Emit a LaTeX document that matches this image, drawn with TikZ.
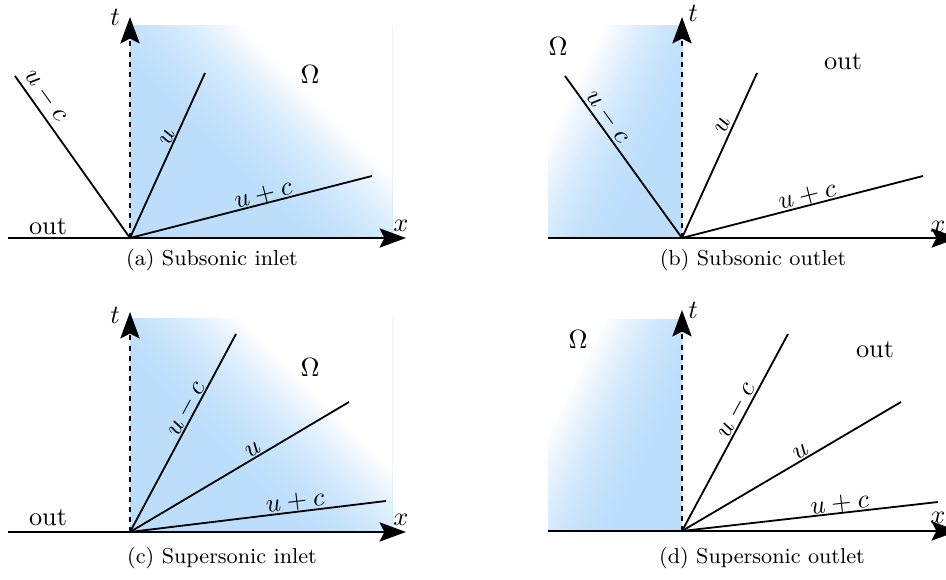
\documentclass[tikz,border=0pt]{standalone}
\usetikzlibrary{arrows.meta}
\definecolor{skyb}{RGB}{188,222,251}
% inlet: u = dx + dy, fade f = ((u-158)/168)^2
\newcommand\inletfade[2]{%
  \foreach \k in {1,...,42}{%
    \pgfmathsetmacro\cc{158+(\k-1)*4}%
    \pgfmathsetmacro\pp{100*(\k/42)^2}%
    \fill[white!\pp!skyb] ({#1+\cc-500},{#2-500}) -- ({#1+\cc+500},{#2+500}) -- ({#1+\cc+1500},{#2-500}) -- ({#1+\cc+500},{#2-1500}) -- cycle;
  }}
% outlet: u = (ox-x) + 0.5 (oy-y), fade f = ((u-60)/125)^2
\newcommand\outletfade[2]{%
  \foreach \k in {1,...,50}{%
    \pgfmathsetmacro\cc{60+(\k-1)*2.5}%
    \pgfmathsetmacro\pp{100*(\k/50)^2}%
    \fill[white!\pp!skyb] ({#1-\cc+250},{#2-500}) -- ({#1-\cc-250},{#2+500}) -- ({#1-\cc-1250},{#2}) -- ({#1-\cc-750},{#2-1000}) -- cycle;
  }}
\tikzset{
  axisline/.style={line width=0.9pt, -{Stealth[length=11pt,width=8pt,inset=2pt]}},
  taxisline/.style={axisline, dash pattern=on 2.1pt off 2.1pt},
  charline/.style={line width=0.75pt},
  captxt/.style={font=\small},
  lbl/.style={inner sep=0pt, font=\fontsize{10.95pt}{13pt}\selectfont},
  charlbl/.style={sloped, anchor=south, inner sep=0pt, outer sep=#1, font=\fontsize{10.95pt}{13pt}\selectfont},
  charlbl/.default=0.4pt
}
\begin{document}
\begin{tikzpicture}[x=0.4167pt, y=-0.4167pt]
\useasboundingbox (0,0) rectangle (946,580);
% ---------- (a) ----------
\begin{scope}
  \clip (130,26) rectangle (392,238);
  \fill[skyb] (130,26) rectangle (392,238);
  \inletfade{130}{238}
\end{scope}
\coordinate (Oa) at (130,238);
\coordinate (Xa0) at (8,238);
\coordinate (Xa1) at (406,238);
\coordinate (Ta) at (130,17);
\coordinate (Aa1) at (15,76);
\coordinate (Aa2) at (205,73);
\coordinate (Aa3) at (372,176);
\draw[taxisline] (Oa) -- (Ta);
\draw[axisline] (Xa0) -- (Xa1);
\draw[charline] (Aa1) -- node[charlbl=2.3pt, pos=0.17] {$u-c$} (Oa);
\draw[charline] (Oa) -- node[charlbl=0.8pt, pos=0.59] {$u$} (Aa2);
\draw[charline] (Oa) -- node[charlbl=0pt, pos=0.56] {$u+c$} (Aa3);
\node[lbl] (ta) at (115,17) {$t$};
\node[lbl] (xa) at (401,226) {$x$};
\node[lbl] (Wa) at (310,75) {$\Omega$};
\node[lbl] (oa) at (48,227) {out};
\node[captxt] (ca) at (212,260) {(a) Subsonic inlet};
% ---------- (b) ----------
\begin{scope}
  \clip (548,26) rectangle (682,238);
  \fill[skyb] (548,26) rectangle (682,238);
  \outletfade{682}{238}
\end{scope}
\coordinate (Ob) at (682,238);
\coordinate (Xb0) at (548,238);
\coordinate (Xb1) at (958,238);
\coordinate (Tb) at (682,17);
\coordinate (Ab1) at (565,76);
\coordinate (Ab2) at (757,73);
\coordinate (Ab3) at (923,176);
\draw[taxisline] (Ob) -- (Tb);
\draw[axisline] (Xb0) -- (Xb1);
\draw[charline] (Ab1) -- node[charlbl=0.8pt, pos=0.29] {$u-c$} (Ob);
\draw[charline] (Ob) -- node[charlbl=1.7pt, pos=0.66] {$u$} (Ab2);
\draw[charline] (Ob) -- node[charlbl=0.2pt, pos=0.53] {$u+c$} (Ab3);
\node[lbl] (tb) at (693,13) {$t$};
\node[lbl] (xb) at (938,227) {$x$};
\node[lbl] (Wb) at (558,47) {$\Omega$};
\node[lbl] (ob) at (843,62) {out};
\node[captxt] (cb) at (753,260) {(b) Subsonic outlet};
% ---------- (c) ----------
\begin{scope}
  \clip (130,319) rectangle (392,532);
  \fill[skyb] (130,319) rectangle (392,532);
  \inletfade{130}{532}
\end{scope}
\coordinate (Oc) at (130,532);
\coordinate (Xc0) at (8,532);
\coordinate (Xc1) at (406,532);
\coordinate (Tc) at (130,312);
\coordinate (Ac1) at (236,334);
\coordinate (Ac2) at (349,402);
\coordinate (Ac3) at (386,501);
\draw[taxisline] (Oc) -- (Tc);
\draw[axisline] (Xc0) -- (Xc1);
\draw[charline] (Oc) -- node[charlbl=0pt, pos=0.6] {$u-c$} (Ac1);
\draw[charline] (Oc) -- node[charlbl=1pt, pos=0.58] {$u$} (Ac2);
\draw[charline] (Oc) -- node[charlbl=0.4pt, pos=0.65] {$u+c$} (Ac3);
\node[lbl] (tc) at (115,315) {$t$};
\node[lbl] (xc) at (401,520) {$x$};
\node[lbl] (Wc) at (310,368) {$\Omega$};
\node[lbl] (oc) at (48,518) {out};
\node[captxt] (cc) at (222,558) {(c) Supersonic inlet};
% ---------- (d) ----------
\begin{scope}
  \clip (548,320) rectangle (682,531);
  \fill[skyb] (548,320) rectangle (682,531);
  \outletfade{682}{531}
\end{scope}
\coordinate (Od) at (682,531);
\coordinate (Xd0) at (548,531);
\coordinate (Xd1) at (958,531);
\coordinate (Td) at (682,310);
\coordinate (Ad1) at (788,334);
\coordinate (Ad2) at (901,402);
\coordinate (Ad3) at (938,502);
\draw[taxisline] (Od) -- (Td);
\draw[axisline] (Xd0) -- (Xd1);
\draw[charline] (Od) -- node[charlbl=0.4pt, pos=0.59] {$u-c$} (Ad1);
\draw[charline] (Od) -- node[charlbl=0.8pt, pos=0.56] {$u$} (Ad2);
\draw[charline] (Od) -- node[charlbl=0pt, pos=0.62] {$u+c$} (Ad3);
\node[lbl] (td) at (693,310) {$t$};
\node[lbl] (xd) at (938,518) {$x$};
\node[lbl] (Wd) at (578,340) {$\Omega$};
\node[lbl] (od) at (875,350) {out};
\node[captxt] (cd) at (762,558) {(d) Supersonic outlet};
\end{tikzpicture}
\end{document}
